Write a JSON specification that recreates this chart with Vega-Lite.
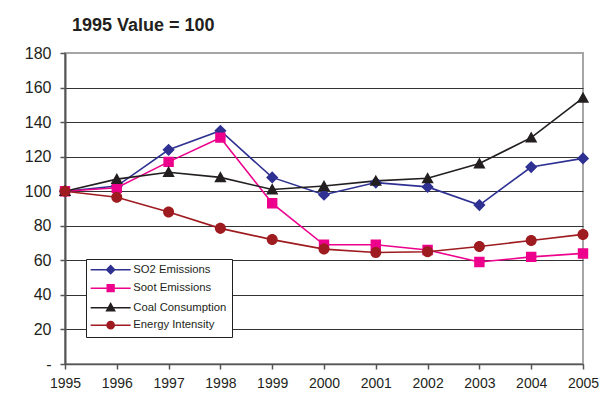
{
  "$schema": "https://vega.github.io/schema/vega-lite/v6.json",
  "width": 518,
  "height": 311,
  "autosize": {"type": "none"},
  "padding": {"left": 65, "top": 53, "right": 22, "bottom": 52},
  "background": "white",
  "title": {"text": "1995 Value = 100", "anchor": "start", "frame": "group", "dx": 7, "offset": 10, "font": "Liberation Sans", "fontSize": 18, "fontWeight": "bold", "color": "#231f20"},
  "config": {
    "view": {"stroke": "#a6a6a6", "strokeWidth": 2},
    "font": "Liberation Sans",
    "axisY": {"labelFontSize": 16},
    "axisX": {"labelFontSize": 14}
  },
  "data": {"values": [
    {"year": 1995, "series": "SO2 Emissions", "value": 100},
    {"year": 1996, "series": "SO2 Emissions", "value": 103},
    {"year": 1997, "series": "SO2 Emissions", "value": 124},
    {"year": 1998, "series": "SO2 Emissions", "value": 135},
    {"year": 1999, "series": "SO2 Emissions", "value": 108},
    {"year": 2000, "series": "SO2 Emissions", "value": 98},
    {"year": 2001, "series": "SO2 Emissions", "value": 105},
    {"year": 2002, "series": "SO2 Emissions", "value": 102.5},
    {"year": 2003, "series": "SO2 Emissions", "value": 92},
    {"year": 2004, "series": "SO2 Emissions", "value": 114},
    {"year": 2005, "series": "SO2 Emissions", "value": 119},
    {"year": 1995, "series": "Soot Emissions", "value": 100},
    {"year": 1996, "series": "Soot Emissions", "value": 102},
    {"year": 1997, "series": "Soot Emissions", "value": 117},
    {"year": 1998, "series": "Soot Emissions", "value": 131},
    {"year": 1999, "series": "Soot Emissions", "value": 93},
    {"year": 2000, "series": "Soot Emissions", "value": 69},
    {"year": 2001, "series": "Soot Emissions", "value": 69},
    {"year": 2002, "series": "Soot Emissions", "value": 66},
    {"year": 2003, "series": "Soot Emissions", "value": 59},
    {"year": 2004, "series": "Soot Emissions", "value": 62},
    {"year": 2005, "series": "Soot Emissions", "value": 64},
    {"year": 1995, "series": "Coal Consumption", "value": 100},
    {"year": 1996, "series": "Coal Consumption", "value": 107},
    {"year": 1997, "series": "Coal Consumption", "value": 111},
    {"year": 1998, "series": "Coal Consumption", "value": 108},
    {"year": 1999, "series": "Coal Consumption", "value": 101},
    {"year": 2000, "series": "Coal Consumption", "value": 103},
    {"year": 2001, "series": "Coal Consumption", "value": 106},
    {"year": 2002, "series": "Coal Consumption", "value": 107.5},
    {"year": 2003, "series": "Coal Consumption", "value": 116},
    {"year": 2004, "series": "Coal Consumption", "value": 131},
    {"year": 2005, "series": "Coal Consumption", "value": 154},
    {"year": 1995, "series": "Energy Intensity", "value": 100},
    {"year": 1996, "series": "Energy Intensity", "value": 96.5},
    {"year": 1997, "series": "Energy Intensity", "value": 88},
    {"year": 1998, "series": "Energy Intensity", "value": 78.5},
    {"year": 1999, "series": "Energy Intensity", "value": 72},
    {"year": 2000, "series": "Energy Intensity", "value": 66.5},
    {"year": 2001, "series": "Energy Intensity", "value": 64.5},
    {"year": 2002, "series": "Energy Intensity", "value": 65},
    {"year": 2003, "series": "Energy Intensity", "value": 68},
    {"year": 2004, "series": "Energy Intensity", "value": 71.5},
    {"year": 2005, "series": "Energy Intensity", "value": 75}
  ]},
  "encoding": {
    "x": {"field": "year", "type": "quantitative", "scale": {"domain": [1995, 2005], "nice": false, "zero": false},
      "axis": {"title": null, "values": [1995,1996,1997,1998,1999,2000,2001,2002,2003,2004,2005], "format": "d", "grid": false,
        "domainColor": "#555", "domainWidth": 1.5, "tickColor": "#555", "tickSize": 5, "tickWidth": 1.5,
        "labelFontSize": 14, "labelColor": "#231f20", "labelPadding": 7, "labelFont": "Liberation Sans", "labelFlush": false, "labelOverlap": false}},
    "y": {"field": "value", "type": "quantitative", "scale": {"domain": [0, 180], "nice": false},
      "axis": {"title": null, "values": [0,20,40,60,80,100,120,140,160,180], "labelExpr": "datum.value == 0 ? '-' : datum.label",
        "gridColor": {"condition": {"test": "datum.value == 180", "value": "#a6a6a6"}, "value": "#333"}, "gridWidth": 1,
        "domainColor": "#555", "domainWidth": 2, "tickColor": "#555", "tickSize": 5, "tickWidth": 1.5,
        "labelFontSize": 16, "labelColor": "#231f20", "labelPadding": 9, "labelFont": "Liberation Sans"}},
    "color": {"field": "series", "type": "nominal",
      "scale": {"domain": ["SO2 Emissions", "Soot Emissions", "Coal Consumption", "Energy Intensity"],
        "range": ["#2e3192", "#ec008c", "#231f20", "#9e1b20"]},
      "legend": {"title": null, "orient": "none", "legendX": 21, "legendY": 206,
            "strokeColor": "#231f20", "fillColor": "white", "padding": 5,
            "symbolSize": 64, "symbolOffset": 14, "labelOffset": 17, "labelFontSize": 11.3, "labelFont": "Liberation Sans", "labelColor": "#231f20",
            "rowPadding": 4.5}}
  },
  "layer": [
    {"mark": {"type": "line", "strokeWidth": 1.6}},
    {"mark": {"type": "point", "filled": true, "opacity": 1, "size": 150},
      "encoding": {
        "shape": {"field": "series", "type": "nominal",
          "scale": {"domain": ["SO2 Emissions", "Soot Emissions", "Coal Consumption", "Energy Intensity"],
            "range": [
              "M-5,0H5M0,-1L1,0L0,1L-1,0Z",
              "M-5,0H5M-0.85,-0.85H0.85V0.85H-0.85Z",
              "M-5,0H5M0,-1L1,0.8H-1Z",
              "M-5,0H5M-0.9,0A0.9,0.9 0 1,0 0.9,0A0.9,0.9 0 1,0 -0.9,0Z"]},
          "legend": {"title": null, "orient": "none", "legendX": 21, "legendY": 206,
            "strokeColor": "#231f20", "fillColor": "white", "padding": 5,
            "symbolSize": 64, "symbolOffset": 14, "labelOffset": 17, "labelFontSize": 11.3, "labelFont": "Liberation Sans", "labelColor": "#231f20",
            "rowPadding": 4.5,
            "encode": {"symbols": {
              "fill": {"value": {"signal": "scale('color', datum.value)"}},
              "stroke": {"value": {"signal": "scale('color', datum.value)"}},
              "strokeWidth": {"value": 1.5},
              "size": {"value": 64},
              "opacity": {"value": 1}
            }}}}
      }}
  ]
}
